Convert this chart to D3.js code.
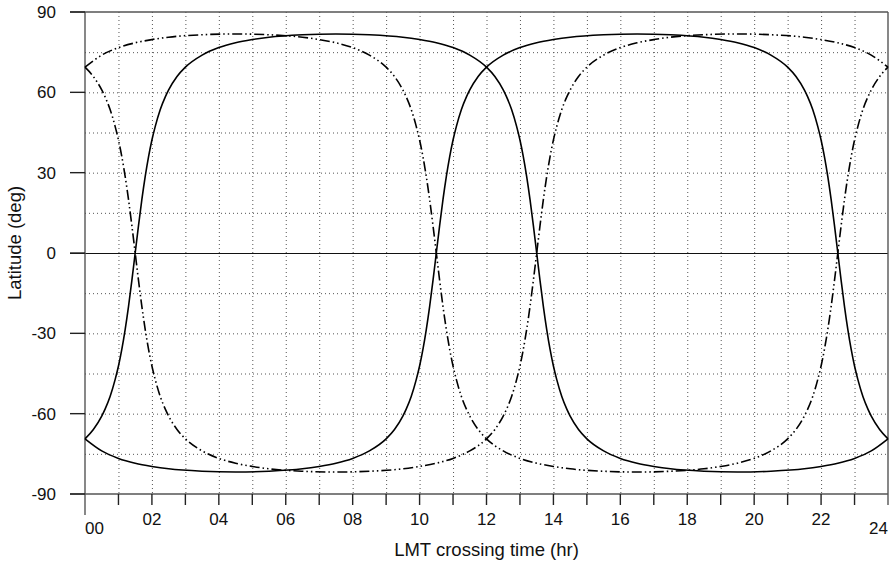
<!DOCTYPE html>
<html lang="en">
<head>
    <meta charset="utf-8" />
    <title>Latitude vs LMT crossing time</title>
    <script src="https://cdnjs.cloudflare.com/ajax/libs/d3/7.8.5/d3.min.js"></script>
    <style>
        body { margin: 0; background: white; }
        text { font-family: "Liberation Sans", Arial, Helvetica, sans-serif; fill: #111; }
    </style>
</head>
<body>
<div id="chart"></div>

<script>
    // hour grid shared by the first solid curve and its dash-dot mirror
    const hoursA = [0, 0.25, 0.5, 0.6, 0.75, 0.9, 1, 1.1, 1.2, 1.3, 1.4, 1.5, 1.6, 1.7, 1.8, 1.9, 2, 2.1, 2.25, 2.4, 2.5, 2.75, 3, 3.5, 4, 4.5, 5, 5.5, 6.5, 7.5, 8.5, 9.5, 10, 10.5, 11, 11.5, 12, 12.25, 12.5, 12.6, 12.75, 12.9, 13, 13.1, 13.2, 13.3, 13.4, 13.5, 13.6, 13.7, 13.8, 13.9, 14, 14.1, 14.25, 14.4, 14.5, 14.75, 15, 15.5, 16, 16.5, 17, 17.5, 18.5, 19.5, 20.5, 21.5, 22, 22.5, 23, 23.5, 24];
    const solidA = [-69.4, -65.9, -60.9, -58.3, -53.6, -47.3, -42.2, -36.0, -28.6, -20.0, -10.3, 0, 10.3, 20.0, 28.6, 36.0, 42.2, 47.3, 53.6, 58.3, 60.9, 65.9, 69.4, 73.9, 76.7, 78.5, 79.7, 80.6, 81.5, 81.8, 81.5, 80.6, 79.7, 78.5, 76.7, 73.9, 69.4, 65.9, 60.9, 58.3, 53.6, 47.3, 42.2, 36.0, 28.6, 20.0, 10.3, 0, -10.3, -20.0, -28.6, -36.0, -42.2, -47.3, -53.6, -58.3, -60.9, -65.9, -69.4, -73.9, -76.7, -78.5, -79.7, -80.6, -81.5, -81.8, -81.5, -80.6, -79.7, -78.5, -76.7, -73.9, -69.4];
    const dashA = [69.4, 65.9, 60.9, 58.3, 53.6, 47.3, 42.2, 36.0, 28.6, 20.0, 10.3, 0, -10.3, -20.0, -28.6, -36.0, -42.2, -47.3, -53.6, -58.3, -60.9, -65.9, -69.4, -73.9, -76.7, -78.5, -79.7, -80.6, -81.5, -81.8, -81.5, -80.6, -79.7, -78.5, -76.7, -73.9, -69.4, -65.9, -60.9, -58.3, -53.6, -47.3, -42.2, -36.0, -28.6, -20.0, -10.3, 0, 10.3, 20.0, 28.6, 36.0, 42.2, 47.3, 53.6, 58.3, 60.9, 65.9, 69.4, 73.9, 76.7, 78.5, 79.7, 80.6, 81.5, 81.8, 81.5, 80.6, 79.7, 78.5, 76.7, 73.9, 69.4];

    // hour grid for the second solid curve and its mirror
    const hoursB = [0, 0.5, 1, 1.5, 2, 2.5, 3.5, 4.5, 5.5, 6.5, 7, 7.5, 8, 8.5, 9, 9.25, 9.5, 9.6, 9.75, 9.9, 10, 10.1, 10.2, 10.3, 10.4, 10.5, 10.6, 10.7, 10.8, 10.9, 11, 11.1, 11.25, 11.4, 11.5, 11.75, 12, 12.5, 13, 13.5, 14, 14.5, 15.5, 16.5, 17.5, 18.5, 19, 19.5, 20, 20.5, 21, 21.25, 21.5, 21.6, 21.75, 21.9, 22, 22.1, 22.2, 22.3, 22.4, 22.5, 22.6, 22.7, 22.8, 22.9, 23, 23.1, 23.25, 23.4, 23.5, 23.75, 24];
    const solidB = [-69.4, -73.9, -76.7, -78.5, -79.7, -80.6, -81.5, -81.8, -81.5, -80.6, -79.7, -78.5, -76.7, -73.9, -69.4, -65.9, -60.9, -58.3, -53.6, -47.3, -42.2, -36.0, -28.6, -20.0, -10.3, 0, 10.3, 20.0, 28.6, 36.0, 42.2, 47.3, 53.6, 58.3, 60.9, 65.9, 69.4, 73.9, 76.7, 78.5, 79.7, 80.6, 81.5, 81.8, 81.5, 80.6, 79.7, 78.5, 76.7, 73.9, 69.4, 65.9, 60.9, 58.3, 53.6, 47.3, 42.2, 36.0, 28.6, 20.0, 10.3, 0, -10.3, -20.0, -28.6, -36.0, -42.2, -47.3, -53.6, -58.3, -60.9, -65.9, -69.4];
    const dashB = [69.4, 73.9, 76.7, 78.5, 79.7, 80.6, 81.5, 81.8, 81.5, 80.6, 79.7, 78.5, 76.7, 73.9, 69.4, 65.9, 60.9, 58.3, 53.6, 47.3, 42.2, 36.0, 28.6, 20.0, 10.3, 0, -10.3, -20.0, -28.6, -36.0, -42.2, -47.3, -53.6, -58.3, -60.9, -65.9, -69.4, -73.9, -76.7, -78.5, -79.7, -80.6, -81.5, -81.8, -81.5, -80.6, -79.7, -78.5, -76.7, -73.9, -69.4, -65.9, -60.9, -58.3, -53.6, -47.3, -42.2, -36.0, -28.6, -20.0, -10.3, 0, 10.3, 20.0, 28.6, 36.0, 42.2, 47.3, 53.6, 58.3, 60.9, 65.9, 69.4];

    // ticks and labels
    const xTickHours = d3.range(0, 25);
    const xLabelHours = [0, 2, 4, 6, 8, 10, 12, 14, 16, 18, 20, 22, 24];
    const yTicks = [-90, -60, -30, 0, 30, 60, 90];
    const yGrid = [-75, -60, -45, -30, -15, 15, 30, 45, 60, 75];

    const width = 893;
    const height = 562;
    const plotLeft = 85, plotRight = 888, plotTop = 12, plotBottom = 494;

    const svg = d3.select("#chart")
        .append("svg")
        .attr("width", width)
        .attr("height", height);

    const x = d3.scaleLinear().domain([0, 24]).range([plotLeft, plotRight]);
    const y = d3.scaleLinear().domain([-90, 90]).range([plotBottom, plotTop]);

    // dotted grid
    const grid = svg.append("g")
        .attr("stroke", "#555")
        .attr("stroke-width", 1)
        .attr("stroke-dasharray", "1,3");

    grid.selectAll(".vgrid")
        .data(xTickHours.filter(h => h > 0 && h < 24))
        .enter()
        .append("line")
        .attr("x1", d => x(d) + 0.5)
        .attr("x2", d => x(d) + 0.5)
        .attr("y1", plotTop)
        .attr("y2", plotBottom);

    grid.selectAll(".hgrid")
        .data(yGrid)
        .enter()
        .append("line")
        .attr("x1", plotLeft)
        .attr("x2", plotRight)
        .attr("y1", d => y(d) + 0.5)
        .attr("y2", d => y(d) + 0.5);

    // zero line
    svg.append("line")
        .attr("x1", plotLeft - 15).attr("x2", plotRight)
        .attr("y1", y(0) + 0.5).attr("y2", y(0) + 0.5)
        .attr("stroke", "#111")
        .attr("stroke-width", 1.2);

    // frame
    const frame = svg.append("g").attr("stroke", "#555").attr("stroke-width", 1.4);
    frame.append("line").attr("x1", plotLeft - 15).attr("x2", plotRight).attr("y1", y(90)).attr("y2", y(90));
    frame.append("line").attr("x1", plotLeft - 15).attr("x2", plotRight).attr("y1", y(-90)).attr("y2", y(-90));
    frame.append("line").attr("x1", x(0)).attr("x2", x(0)).attr("y1", y(90)).attr("y2", plotBottom + 21);
    frame.append("line").attr("x1", x(24)).attr("x2", x(24)).attr("y1", y(90)).attr("y2", plotBottom + 11);

    // y ticks and labels
    svg.selectAll(".ytick")
        .data(yTicks)
        .enter()
        .append("line")
        .attr("x1", plotLeft - 15)
        .attr("x2", plotLeft)
        .attr("y1", d => y(d))
        .attr("y2", d => y(d))
        .attr("stroke", "#222")
        .attr("stroke-width", 1.4);

    svg.selectAll(".ylabel")
        .data(yTicks)
        .enter()
        .append("text")
        .attr("x", 56)
        .attr("y", d => y(d))
        .attr("dy", "0.36em")
        .attr("text-anchor", "end")
        .attr("font-size", 17)
        .text(d => d);

    // x ticks and labels
    svg.selectAll(".xtick")
        .data(xTickHours.filter(h => h > 0 && h < 24))
        .enter()
        .append("line")
        .attr("x1", d => x(d))
        .attr("x2", d => x(d))
        .attr("y1", plotBottom)
        .attr("y2", plotBottom + 11)
        .attr("stroke", "#222")
        .attr("stroke-width", 1.4);

    svg.selectAll(".xlabel")
        .data(xLabelHours)
        .enter()
        .append("text")
        .attr("x", d => x(d))
        .attr("y", d => (d === 0 || d === 24) ? plotBottom + 40 : plotBottom + 31)
        .attr("text-anchor", d => d === 0 ? "start" : (d === 24 ? "end" : "middle"))
        .attr("font-size", 17)
        .text(d => d3.format("02d")(d));

    // axis titles
    svg.append("text")
        .attr("x", (plotLeft + plotRight) / 2)
        .attr("y", 556)
        .attr("text-anchor", "middle")
        .attr("font-size", 18.5)
        .text("LMT crossing time (hr)");

    svg.append("text")
        .attr("transform", "translate(21, 243) rotate(-90)")
        .attr("text-anchor", "middle")
        .attr("font-size", 18.5)
        .text("Latitude (deg)");

    // curves
    const line = d3.line()
        .x(d => x(d[0]))
        .y(d => y(d[1]))
        .curve(d3.curveMonotoneX);

    const curves = [
        { hours: hoursA, lat: solidA, dash: null },
        { hours: hoursB, lat: solidB, dash: null },
        { hours: hoursA, lat: dashA, dash: "10,3,1.5,3,1.5,3" },
        { hours: hoursB, lat: dashB, dash: "10,3,1.5,3,1.5,3" }
    ];

    svg.selectAll(".curve")
        .data(curves)
        .enter()
        .append("path")
        .attr("d", c => line(c.hours.map((h, i) => [h, c.lat[i]])))
        .attr("fill", "none")
        .attr("stroke", "#000")
        .attr("stroke-width", 1.6)
        .attr("stroke-dasharray", c => c.dash);
</script>
</body>
</html>
